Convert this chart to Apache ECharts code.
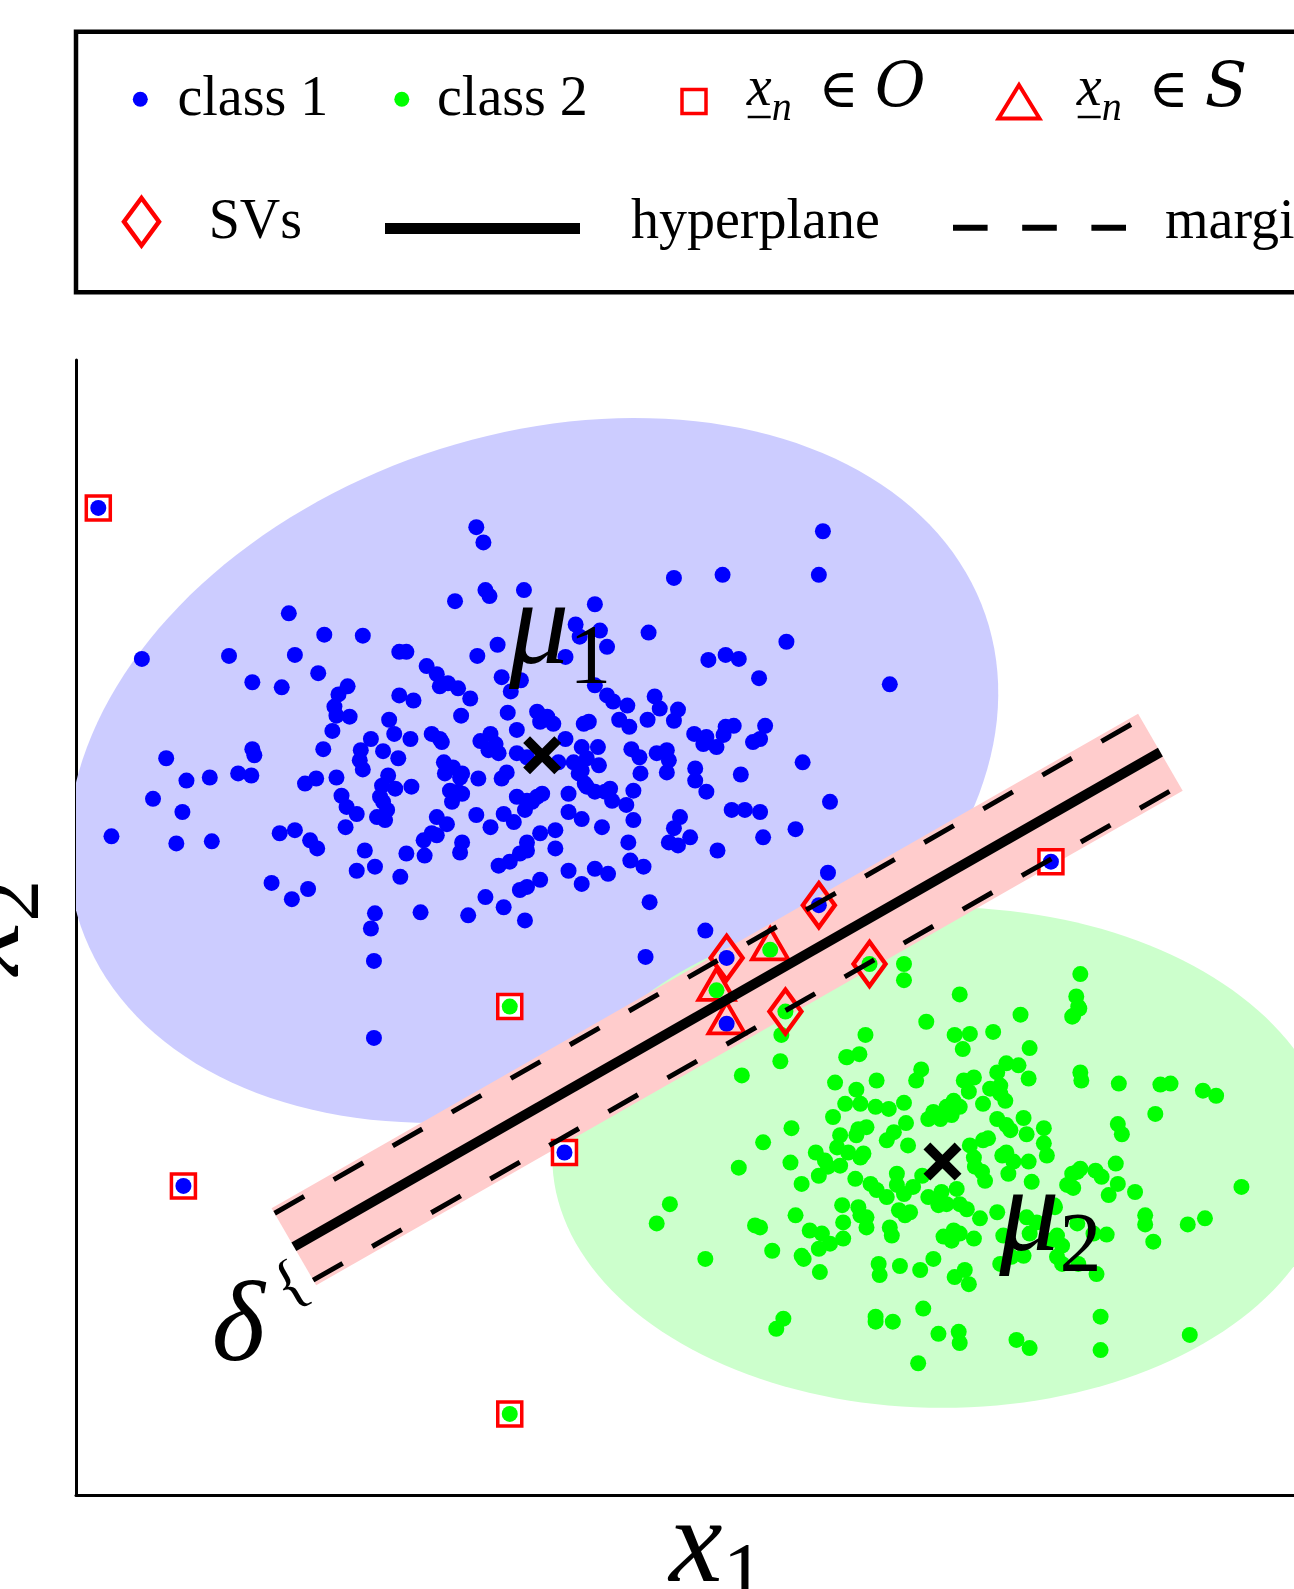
<!DOCTYPE html>
<html><head><meta charset="utf-8">
<script src="https://cdn.jsdelivr.net/npm/echarts@6/dist/echarts.min.js"></script>
<style>html,body{margin:0;padding:0;background:#fff}#c{width:1294px;height:1589px}</style>
</head><body><div id="c"></div>
<script>
// ---------------- data (reference units, y grows downward) ----------------
const class1Points = [
[285,605],[320,626],[358,627],[140,650],[226,647],[291,646],[394,643],[249,673],[278,678],[314,664],[343,677],[334,685],[330,697],[332,706],[345,707],[394,686],[384,710],[389,724],[366,729],[328,721],[319,739],[356,740],[355,750],[358,759],[378,741],[393,748],[249,739],[251,745],[164,748],[207,767],[235,763],[248,765],[184,770],[312,768],[332,767],[383,765],
[470,520],[477,535],[665,570],[479,582],[483,588],[517,582],[449,593],[587,596],[568,616],[572,628],[592,622],[599,638],[640,624],[491,636],[471,647],[401,643],[558,648],[495,668],[514,671],[504,682],[421,657],[431,665],[434,677],[442,674],[452,679],[464,689],[408,691],[455,706],[501,703],[587,676],[599,686],[605,692],[619,696],[646,687],[651,699],[669,700],[611,710],[621,717],[639,710],[665,711],[581,712],[576,714],[530,702],[540,707],[546,714],[533,712],[510,720],[685,724],[405,729],[426,724],[434,729],[436,732],[474,731],[484,724],[489,734],[492,743],[510,743],[558,729],[574,737],[579,748],[590,737],[591,755],[566,752],[574,760],[623,739],[631,747],[648,743],[658,740],[660,750],[658,762],[438,752],[447,757],[456,763],[472,768],[500,762],[686,758],[632,763],
[454,767],[439,763],[452,781],[444,780],[456,783],[446,791],[482,740],[495,768],[520,747],[551,752],[510,786],[520,790],[530,786],[535,783],[518,799],[525,791],[497,803],[507,811],[484,816],[470,804],[561,783],[561,801],[574,808],[594,816],[571,763],[577,773],[587,781],[597,781],[604,790],[602,778],[625,780],[618,794],[625,809],[620,831],[622,849],[635,855],[600,862],[587,857],[574,872],[561,859],[548,819],[548,837],[533,822],[520,831],[520,839],[513,842],[503,850],[492,854],[533,868],[520,875],[513,878],[479,885],[497,895],[518,908],[641,890],[431,806],[441,813],[426,822],[418,829],[431,824],[456,831],[454,841],[419,844],[401,842],[395,865],[415,900],[462,903],[382,799],[375,786],[380,809],[372,806],[360,839],[370,855],[352,859],[352,803],[342,796],[337,785],[341,816],[301,773],[406,776],[377,775],[378,791],[390,778],[291,819],[276,822],[306,829],[313,837],[304,877],[288,887],[370,901],
[776,633],[699,651],[716,646],[729,650],[749,669],[878,675],[697,727],[694,734],[707,737],[716,717],[724,716],[714,725],[743,732],[755,716],[750,729],[792,752],[686,770],[697,781],[731,764],[579,776],[671,806],[665,817],[681,826],[660,831],[669,834],[722,799],[735,799],[750,801],[753,826],[785,818],[708,839],[819,791],[817,861],
[151,788],[180,801],[110,825],[174,832],[209,830],[268,871],[366,916],[369,948],[369,1024],
[696,918],[637,944],[812,524],[808,567],[713,567]
];
const class2Points = [
[771,1021],[770,1047],[854,1021],[914,1008],[942,1021],[957,1020],[950,1035],[980,1018],[1007,1001],[1059,1002],[1064,993],[1016,1034],[835,1043],[848,1040],[824,1068],[865,1066],[909,1055],[904,1066],[845,1075],[834,1089],[849,1089],[864,1092],[877,1094],[892,1088],[951,1066],[961,1063],[956,1077],[984,1058],[993,1049],[1005,1051],[1015,1064],[987,1071],[987,1079],[992,1086],[977,1074],[1066,1058],[1067,1066],[941,1086],[947,1092],[934,1092],[921,1097],[916,1104],[928,1104],[939,1100],[970,1089],[822,1102],[781,1113],[753,1127],[829,1120],[847,1114],[855,1112],[845,1120],[882,1117],[875,1125],[894,1108],[896,1130],[984,1104],[993,1110],[997,1115],[1010,1103],[1013,1119],[1030,1113],[805,1137],[814,1145],[826,1132],[837,1137],[849,1142],[852,1138],[780,1147],[808,1160],[817,1151],[829,1150],[791,1168],[844,1163],[859,1168],[865,1174],[875,1181],[885,1158],[892,1178],[885,1169],[901,1171],[910,1160],[916,1181],[961,1142],[962,1151],[957,1130],[970,1125],[975,1123],[969,1156],[972,1165],[993,1137],[989,1140],[1000,1146],[1030,1128],[1033,1140],[1015,1146],[995,1158],[1018,1166],[1066,1153],[1058,1158],[1081,1155],[1053,1169],[929,1176],[944,1173],[934,1188],[926,1189],[947,1188],[954,1193],[967,1202],[984,1196],[887,1194],[898,1196],[893,1199],[831,1189],[847,1191],[849,1199],[855,1211],[785,1199],[799,1214],[811,1217],[819,1227],[832,1222],[808,1232],[832,1206],[878,1211],[880,1219],[931,1220],[941,1214],[947,1217],[939,1224],[961,1222],[762,1234],[791,1239],[793,1242],[809,1255],[867,1247],[868,1258],[888,1249],[908,1253],[921,1242],[942,1260],[952,1253],[956,1267],[987,1247],[1043,1240],[1048,1229],[1010,1239],[1016,1217],[1036,1224],[750,1211],[1082,1257],
[661,1188],[648,1207],[696,1242],[745,1209],[855,1201],[773,1301],[766,1311],[864,1299],[864,1304],[881,1304],[911,1291],[926,1316],[946,1314],[947,1325],[906,1345],[1003,1322],[1016,1330],[1086,1299],[1086,1332],[998,1240],[1048,1247],[1064,1247],[990,1219],[1013,1201],[1023,1206],[1040,1189],[1043,1219],[1079,1217],
[1066,961],[1062,983],[1065,995],[1058,1003],[1104,1069],[1145,1070],[1155,1069],[1187,1076],[1200,1081],[1140,1099],[1103,1109],[1107,1119],[1101,1148],[1063,1156],[1087,1161],[1059,1172],[1103,1168],[1094,1179],[1120,1176],[1225,1171],[1130,1199],[1130,1208],[1138,1225],[1172,1208],[1189,1202],[1041,1191],[1063,1207],[1092,1218],[1174,1317],
[892,951],[892,967],[732,1061],[836,1043],[947,981],[729,1152]
];
// flagged points: [x, y, class]
const outlierPoints = [[97,501,1],[181,1170,1],[503,993,2],[557,1137,1],[503,1395,2],[1037,850,1]];
const slackPoints = [[760,937,2],[707,977,2],[717,1010,1]];
const supportVectors = [[717,945,1],[808,893,1],[775,998,2],[858,951,2]];
const meanPoints = [[535,745],[930,1146]];
const meanSubscripts = ['1','2'];
// ellipses: [cx, cy, semi-major, semi-minor, tilt deg]
const ellipseBlue = [526,760,472,330,19];
const ellipseGreen = [930,1142,385,247,0];
const bandCorners = [[268,1192],[1123,704],[1167,780],[312,1268]];
const hyperplane = [[290,1230],[1145,742]];
const upperMargin = [[271,1197],[1126,709]];
const lowerMargin = [[309,1263],[1164,775]];
const annotations = [[235,1312,'δ'],[288,1269,'{']];

// ---------------- chart ----------------
const BLUE='#0000ff', GREEN='#00ff00', RED='#ff0000';
const SERIF='Liberation Serif';
const mathRich = {
  m:{fontFamily:SERIF,fontStyle:'italic',fontSize:120,lineHeight:120,color:'#000'},
  s:{fontFamily:SERIF,fontStyle:'normal',fontSize:84,lineHeight:84,padding:[60,0,0,0],color:'#000'}
};
const annoRich = {
  d:{fontFamily:SERIF,fontStyle:'italic',fontSize:114,lineHeight:114,color:'#000000'},
  b:{fontFamily:SERIF,fontStyle:'normal',fontSize:62,lineHeight:62,color:'#000000'}
};
function ellipseItem(e,color){return {value:e,itemStyle:{color:color}};}
function renderEllipse(params, api){
  const cx=api.value(0), cy=api.value(1), a=api.value(2), b=api.value(3), ang=api.value(4)*Math.PI/180;
  const pts=[];
  for(let i=0;i<180;i++){
    const t=i/180*2*Math.PI, ex=a*Math.cos(t), ey=b*Math.sin(t);
    pts.push(api.coord([cx+ex*Math.cos(ang)-ey*Math.sin(ang), cy-(ex*Math.sin(ang)+ey*Math.cos(ang))]));
  }
  return {type:'polygon',shape:{points:pts},style:{fill:api.visual('color')}};
}
function renderBand(params, api){
  const pts=[];
  for(let i=0;i<4;i++) pts.push(api.coord([api.value(2*i),api.value(2*i+1)]));
  return {type:'polygon',shape:{points:pts},style:{fill:'#ffcccc'}};
}
const byClass = (arr,c)=>arr.filter(p=>p[2]===c).map(p=>[p[0],p[1]]);
const blueAll = class1Points.concat(byClass(outlierPoints,1),byClass(slackPoints,1),byClass(supportVectors,1));
const greenAll = class2Points.concat(byClass(outlierPoints,2),byClass(slackPoints,2),byClass(supportVectors,2));
const XPATH='path://M0,18L18,0L50,32L82,0L100,18L68,50L100,82L82,100L50,68L18,100L0,82L32,50Z';
const meanOffsets=[[18,-124],[108,57]];

// legend graphic
const LT=(t,x,y,font,extra)=>Object.assign({type:'text',style:{text:t,x:x,y:y,font:font,fill:'#000',textAlign:'left',align:'left',textVerticalAlign:'middle',verticalAlign:'middle'}},extra||{});
const F56='56px "Liberation Serif", serif', I56='italic 56px "Liberation Serif", serif', I40='italic 40px "Liberation Serif", serif';
const CAL='italic 62px "DejaVu Serif", serif', ELEM='54px "DejaVu Serif", serif';
function mathItem(x0, letter){
  return [
    LT('x',x0,90,I56),
    {type:'line',shape:{x1:x0+1,y1:117,x2:x0+24,y2:117},style:{stroke:'#000',lineWidth:2.5}},
    LT('n',x0+25,109,I40),
    LT('∈',x0+72,93,ELEM),
    LT(letter,x0+128,89.5,CAL)
  ];
}
const legendGraphic = [
  {type:'rect',shape:{x:76,y:31.7,width:1400,height:260.5},style:{fill:'#fff',stroke:'#000',lineWidth:4.5}},
  {type:'circle',shape:{cx:140.3,cy:99.3,r:7.5},style:{fill:BLUE}},
  LT('class 1',177.4,100,F56),
  {type:'circle',shape:{cx:401.8,cy:99.3,r:7.5},style:{fill:GREEN}},
  LT('class 2',437,100,F56),
  {type:'rect',shape:{x:682,y:89.5,width:24,height:24},style:{fill:'#fff',stroke:RED,lineWidth:3.5}},
  ...mathItem(746.7,'O'),
  {type:'polygon',shape:{points:[[1019,85],[998.5,118.5],[1039.5,118.5]]},style:{fill:'none',stroke:RED,lineWidth:4}},
  ...mathItem(1076.7,'S'),
  {type:'polygon',shape:{points:[[141.5,198],[159,221.7],[141.5,245.5],[124,221.7]]},style:{fill:'none',stroke:RED,lineWidth:4.5}},
  LT('SVs',208.7,223.5,F56),
  {type:'line',shape:{x1:385,y1:228.5,x2:580,y2:228.5},style:{stroke:'#000',lineWidth:11}},
  LT('hyperplane',631,223.5,F56),
  {type:'line',shape:{x1:953,y1:227.7,x2:1126,y2:227.7},style:{stroke:'#000',lineWidth:6,lineDash:[34.6,34.6]}},
  LT('margin',1165,223.5,F56)
];

const chart = echarts.init(document.getElementById('c'), null, {renderer:'canvas'});
chart.setOption({
  animation:false,
  backgroundColor:'#fff',
  tooltip:{show:false},
  grid:{left:76,right:-64,top:360,bottom:94,containLabel:false,outerBoundsMode:'none'},
  xAxis:{type:'value',min:75,max:1340,
    axisLine:{show:true,onZero:false,lineStyle:{color:'#000',width:3}},
    axisTick:{show:false},axisLabel:{show:false},splitLine:{show:false},
    name:'{m|x}{s|1}',nameLocation:'middle',nameGap:-6,nameMoveOverlap:false,
    nameTextStyle:{rich:mathRich}},
  yAxis:{type:'value',min:355,max:1475,inverse:true,
    axisLine:{show:true,onZero:false,lineStyle:{color:'#000',width:3}},
    axisTick:{show:false},axisLabel:{show:false},splitLine:{show:false},
    name:'{m|x}{s|2}',nameLocation:'middle',nameRotate:90,nameGap:30,nameMoveOverlap:false,
    nameTextStyle:{rich:mathRich}},
  graphic:{elements:legendGraphic},
  series:[
    {type:'custom',name:'ellipses',clip:true,silent:true,renderItem:renderEllipse,
     data:[ellipseItem(ellipseBlue,'#ccccff'),ellipseItem(ellipseGreen,'#ccffcc')]},
    {type:'custom',name:'band',clip:true,silent:true,renderItem:renderBand,
     data:[bandCorners.flat()]},
    {type:'line',name:'upper margin',data:upperMargin,symbol:'none',silent:true,
     lineStyle:{color:'#000',width:5,type:[34,34]}},
    {type:'line',name:'lower margin',data:lowerMargin,symbol:'none',silent:true,
     lineStyle:{color:'#000',width:5,type:[34,34]}},
    {type:'line',name:'hyperplane',data:hyperplane,symbol:'none',silent:true,
     lineStyle:{color:'#000',width:10,cap:'butt'}},
    {type:'scatter',name:'outliers',data:outlierPoints.map(p=>[p[0],p[1]]),symbol:'rect',symbolSize:24,silent:true,
     itemStyle:{color:'#fff',borderColor:RED,borderWidth:3.5,opacity:1}},
    {type:'scatter',name:'class 1',data:blueAll,symbolSize:16,silent:true,itemStyle:{color:BLUE,opacity:1}},
    {type:'scatter',name:'class 2',data:greenAll,symbolSize:16,silent:true,itemStyle:{color:GREEN,opacity:1}},
    {type:'scatter',name:'S',data:slackPoints.map(p=>[p[0],p[1]]),symbol:'triangle',symbolSize:[36,31],symbolOffset:[0,-6],silent:true,
     itemStyle:{color:'rgba(0,0,0,0)',borderColor:RED,borderWidth:4,opacity:1}},
    {type:'scatter',name:'SVs',data:supportVectors.map(p=>[p[0],p[1]]),symbol:'diamond',symbolSize:[32,44],silent:true,
     itemStyle:{color:'rgba(0,0,0,0)',borderColor:RED,borderWidth:4.5,opacity:1}},
    {type:'scatter',name:'means',symbol:XPATH,symbolSize:38,silent:true,
     itemStyle:{color:'#000',opacity:1},
     data:meanPoints.map((p,i)=>({value:p,label:{offset:meanOffsets[i]}})),
     label:{show:true,position:'inside',formatter:(pa)=>'{m|μ}{s|'+meanSubscripts[pa.dataIndex]+'}',rich:mathRich}},
    {type:'scatter',name:'annotations',symbol:'circle',symbolSize:2,silent:true,itemStyle:{color:'#fff',opacity:0},
     data:annotations.map((a,i)=>({value:[a[0],a[1]],label:i===1?{rotate:30}:{}})),
     label:{show:true,position:'inside',opacity:1,color:'#000000',textBorderWidth:0,rich:annoRich,
       formatter:(pa)=>(pa.dataIndex===0?'{d|':'{b|')+annotations[pa.dataIndex][2]+'}'}}
  ]
});
</script></body></html>
